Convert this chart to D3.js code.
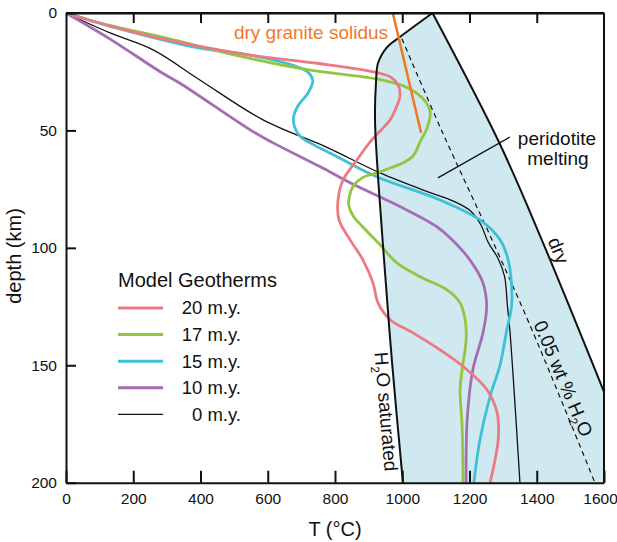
<!DOCTYPE html>
<html>
<head>
<meta charset="utf-8">
<script src="https://cdn.jsdelivr.net/npm/d3@7"></script>
<style>
	html, body { margin: 0; padding: 0; background: #fff; }
	svg { display: block; font-family: "Liberation Sans", Arial, Helvetica, sans-serif; }
</style>
</head>
<body>
<div id="chart"></div>
<script>
// geotherms as [T (°C), depth (km)] pairs
const geotherm20 = [[0,0],[130,5.5],[280,10.8],[547,17.9],[746,21.4],[928,25.5],[967,27.4],[989,31.1],[993,35.7],[984,39.6],[964,45.5],[943,48.9],[904,55],[865,62.6],[824,71.1],[809,79.6],[812,88.1],[845,96.6],[883,105.1],[913,114.9],[928,123.4],[964,130.6],[1032,136.2],[1112,143.4],[1181,150.5],[1252,160.4],[1282,170.2],[1286,180.4],[1276,190.2],[1261,200]];
const geotherm17 = [[0,0],[130,5.3],[280,10.1],[547,19.3],[726,24.3],[924,28.1],[1017,31.9],[1065,37],[1083,42.1],[1074,48.9],[1053,54.9],[1032,60.9],[1000,64],[964,66],[920,68.3],[883,70],[855,73.5],[843,78],[841,82],[854,86.4],[883,91.1],[934,98.7],[984,106.4],[1053,112.3],[1133,117.9],[1172,123.4],[1187,130.6],[1190,139.1],[1178,151.9],[1172,160.4],[1178,176.2],[1181,200]];
const geotherm15 = [[0,0],[130,5.6],[398,15],[547,17.9],[686,22.8],[722,25.5],[734,28.8],[720,34],[690,39.5],[676,45],[684,50],[700,53],[726,55.3],[805,61.1],[924,69.7],[1112,79.6],[1231,88.1],[1291,96.6],[1315,105.1],[1325,115.7],[1325,125],[1311,134.9],[1291,149.8],[1261,163.3],[1231,181.7],[1213,200]];
const geotherm10 = [[0,0],[130,11],[280,25],[339,29.9],[556,50.5],[616,55.3],[755,65.4],[845,72.3],[993,82.4],[1102,90.9],[1142,95.7],[1201,105.1],[1240,114.9],[1251,125],[1240,136.2],[1210,151.9],[1193,173.2],[1190,200]];
const geotherm0 = [[0,0],[131,8.5],[259,15.7],[398,28.5],[586,45.5],[779,57.4],[934,68.1],[1083,76.5],[1150,80],[1205,84.5],[1235,90.5],[1255,97.5],[1285,104.5],[1304,112],[1313,125],[1320,135],[1350,200]];

// solidi
const wetSolidus = [[1090,0],[993,10.2],[955,14.5],[928,21.3],[922,29.4],[919,45.5],[928,69.8],[943,99.6],[969,147.7],[1002,200]];
const drySolidus = [[1090,0],[1291,56],[1419,98],[1600,161.3]];
const water005 = [[999,11],[1117,50],[1281,101],[1389,136],[1573,200]];
const graniteSolidus = [[972,0],[1056,51]];

const legendLabels = ["20 m.y.", "17 m.y.", "15 m.y.", "10 m.y.", "0 m.y."];
const xTicks = [0, 200, 400, 600, 800, 1000, 1200, 1400, 1600];
const yTicks = [0, 50, 100, 150, 200];

const width = 617, height = 542;
const colors = ["#ea7a83", "#92c640", "#3ec0d6", "#a56db4", "#111"];
const series = [geotherm20, geotherm17, geotherm15, geotherm10, geotherm0];

const x = d3.scaleLinear().domain([0, 1600]).range([66, 604]);
const y = d3.scaleLinear().domain([0, 200]).range([13, 482.7]);

const svg = d3.select('#chart')
	.append('svg')
	.attr('width', width)
	.attr('height', height)
	.attr('viewBox', `0 0 ${width} ${height}`);

const smooth = d3.line()
	.x(d => x(d[0]))
	.y(d => y(d[1]))
	.curve(d3.curveCatmullRom.alpha(0.5));
const straight = d3.line()
	.x(d => x(d[0]))
	.y(d => y(d[1]));

// peridotite melting field: wet solidus down, along the bottom, up the right edge, dry solidus back
const wetPath = smooth(wetSolidus);
const dryBack = smooth(drySolidus.slice().reverse());
const fieldPath = wetPath
	+ `L${x(1600)},${y(200)}`
	+ `L${x(1600)},${y(161.3)}`
	+ dryBack.replace(/^M/, 'L') + 'Z';

svg.append('path')
	.attr('d', fieldPath)
	.attr('fill', '#d0e9f0');

svg.append('path')
	.attr('d', smooth(water005))
	.attr('fill', 'none')
	.attr('stroke', '#111')
	.attr('stroke-width', 1.2)
	.attr('stroke-dasharray', '5,4');

// geotherms, oldest drawn first
series.slice().reverse().forEach((s, i) => {
	const k = series.length - 1 - i;
	svg.append('path')
		.attr('d', smooth(s))
		.attr('fill', 'none')
		.attr('stroke', colors[k])
		.attr('stroke-width', k === 4 ? 1.3 : 2.8)
		.attr('stroke-linejoin', 'round');
});

svg.append('path')
	.attr('d', wetPath)
	.attr('fill', 'none')
	.attr('stroke', '#111')
	.attr('stroke-width', 2);
svg.append('path')
	.attr('d', smooth(drySolidus))
	.attr('fill', 'none')
	.attr('stroke', '#111')
	.attr('stroke-width', 2);

svg.append('path')
	.attr('d', straight(graniteSolidus))
	.attr('fill', 'none')
	.attr('stroke', '#f07a28')
	.attr('stroke-width', 2.6);

// leader for peridotite melting
svg.append('path')
	.attr('d', straight([[1320, 52.8], [1106, 70.2]]))
	.attr('stroke', '#111')
	.attr('stroke-width', 1.3);

// axes
const axisG = svg.append('g');
axisG.append('g')
	.attr('transform', `translate(${x(0)},0)`)
	.call(d3.axisLeft(y).tickValues(yTicks).tickSizeInner(-10).tickSizeOuter(0).tickPadding(9));
const bottom = axisG.append('g')
	.attr('transform', `translate(0,${y(200)})`)
	.call(d3.axisBottom(x).tickValues(xTicks).tickFormat(d3.format('d'))
		.tickSizeInner(-12).tickSizeOuter(0).tickPadding(10));
axisG.append('g')
	.attr('transform', `translate(0,${y(0)})`)
	.call(d3.axisTop(x).tickValues(xTicks.slice(1, -1)).tickSizeInner(-10).tickSizeOuter(0).tickFormat(''));
axisG.append('line')
	.attr('x1', x(1600)).attr('x2', x(1600))
	.attr('y1', y(0)).attr('y2', y(200))
	.attr('stroke', '#111').attr('stroke-width', 2);
axisG.append('line')
	.attr('x1', x(0)).attr('x2', x(1600))
	.attr('y1', y(0)).attr('y2', y(0))
	.attr('stroke', '#111').attr('stroke-width', 2);

axisG.selectAll('.domain').attr('stroke', '#111').attr('stroke-width', 2);
axisG.selectAll('.tick line').attr('stroke', '#111').attr('stroke-width', 2);
axisG.selectAll('.tick text')
	.attr('font-family', '"Liberation Sans", Arial, sans-serif')
	.attr('font-size', 15.5)
	.attr('fill', '#111');
// last label sits at the window edge
bottom.selectAll('.tick text').filter(d => d === 1600).attr('dx', -4);

svg.append('text')
	.attr('transform', `translate(21,256) rotate(-90)`)
	.attr('text-anchor', 'middle')
	.attr('font-size', 20)
	.attr('fill', '#111')
	.text('depth (km)');
svg.append('text')
	.attr('x', 335)
	.attr('y', 536)
	.attr('text-anchor', 'middle')
	.attr('font-size', 20)
	.attr('fill', '#111')
	.text('T (°C)');

// annotations
svg.append('text')
	.attr('x', x(958))
	.attr('y', y(10.9))
	.attr('text-anchor', 'end')
	.attr('font-size', 19)
	.attr('fill', '#f07a28')
	.text('dry granite solidus');

svg.append('text')
	.attr('x', x(1460))
	.attr('y', y(56.2))
	.attr('text-anchor', 'middle')
	.attr('font-size', 19)
	.attr('fill', '#111')
	.text('peridotite');
svg.append('text')
	.attr('x', x(1463))
	.attr('y', y(64.9))
	.attr('text-anchor', 'middle')
	.attr('font-size', 19)
	.attr('fill', '#111')
	.text('melting');

svg.append('text')
	.attr('transform', `translate(${x(1433)},${y(103)}) rotate(67.7)`)
	.attr('y', -5)
	.attr('text-anchor', 'middle')
	.attr('font-size', 19)
	.attr('fill', '#111')
	.text('dry');

const wt = svg.append('text')
	.attr('transform', `translate(${x(1450)},${y(157.4)}) rotate(67.2)`)
	.attr('y', -4)
	.attr('text-anchor', 'middle')
	.attr('font-size', 19)
	.attr('fill', '#111');
wt.append('tspan').text('0.05 wt % H');
wt.append('tspan').attr('font-size', 12).attr('dy', 5).text('2');
wt.append('tspan').attr('dy', -5).text('O');

const sat = svg.append('text')
	.attr('transform', `translate(${x(983)},${y(169.4)}) rotate(85.2)`)
	.attr('y', 17)
	.attr('text-anchor', 'middle')
	.attr('font-size', 19)
	.attr('fill', '#111');
sat.append('tspan').text('H');
sat.append('tspan').attr('font-size', 12).attr('dy', 5).text('2');
sat.append('tspan').attr('dy', -5).text('O saturated');

// legend
const legend = svg.append('g').attr('transform', 'translate(118,0)');
legend.append('text')
	.attr('x', 0)
	.attr('y', 287)
	.attr('font-size', 20)
	.attr('fill', '#111')
	.text('Model Geotherms');
const item = legend.selectAll('g.item')
	.data(legendLabels)
	.enter()
	.append('g')
	.attr('class', 'item')
	.attr('transform', (d, i) => `translate(0,${308 + i * 26.6})`);
item.append('line')
	.attr('x1', 0).attr('x2', 45)
	.attr('stroke', (d, i) => colors[i])
	.attr('stroke-width', (d, i) => i === 4 ? 1.3 : 3);
item.append('text')
	.attr('x', 123)
	.attr('dy', '0.35em')
	.attr('text-anchor', 'end')
	.attr('font-size', 18.5)
	.attr('fill', '#111')
	.text(d => d);
</script>
</body>
</html>
